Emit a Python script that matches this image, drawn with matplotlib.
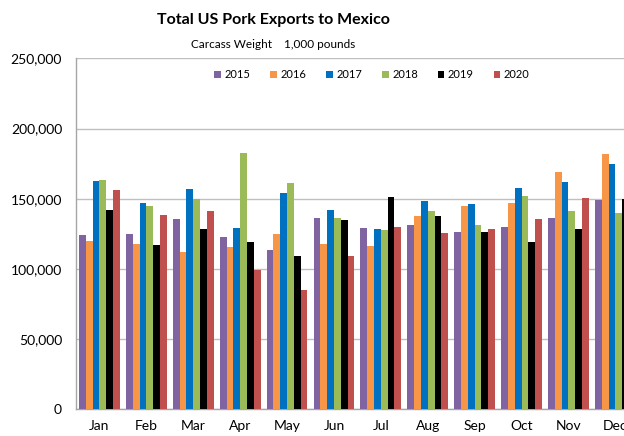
import matplotlib
matplotlib.use("Agg")
import matplotlib.pyplot as plt
import numpy as np

months = ["Jan", "Feb", "Mar", "Apr", "May", "Jun", "Jul", "Aug", "Sep", "Oct", "Nov", "Dec"]
years = ["2015", "2016", "2017", "2018", "2019", "2020"]
colors = ["#8064A2", "#F79646", "#0070C0", "#9BBB59", "#000000", "#C0504D"]

v2015 = [124150, 124650, 135300, 122700, 113200, 136500, 129400, 131100, 126300, 129900, 136500, 148900]
v2016 = [119650, 118000, 112000, 115600, 125100, 118000, 116600, 137700, 144600, 146900, 169000, 182100]
v2017 = [162400, 146900, 156900, 129100, 154100, 141700, 128700, 148400, 146000, 157900, 162200, 174700]
v2018 = [163100, 144600, 150000, 182500, 161400, 136300, 127700, 141200, 131100, 151900, 141000, 139800]
v2019 = [142200, 117300, 128700, 119200, 109000, 134600, 151000, 137500, 126300, 119200, 128700, 150000]
v2020 = [156000, 138200, 141000, 99200, 84800, 109500, 129900, 125400, 128700, 135800, 150800, np.nan]
series = [v2015, v2016, v2017, v2018, v2019, v2020]

plt.rcParams['font.family'] = ['Lato', 'DejaVu Sans']

fig = plt.figure(figsize=(6.24, 4.36), dpi=100)
ax = fig.add_axes([76/624, (436-409.3)/436, 1 - 76/624, (409.3-58.3)/436])

x = np.arange(len(months))
bw = 0.145
for i, (yr, vals, c) in enumerate(zip(years, series, colors)):
    ax.bar(x + (i - 2.5) * bw, vals, width=bw, color=c, label=yr, zorder=3)

ax.set_xlim(-0.5, -0.5 + 548/46.9)
ax.set_ylim(0, 250000)
ax.set_yticks(np.arange(0, 250001, 50000))
ax.yaxis.set_major_formatter(matplotlib.ticker.FuncFormatter(lambda v, p: f"{int(v):,}"))
ax.set_xticks(x)
ax.set_xticklabels(months)
ax.tick_params(axis='both', length=0, labelsize=10, colors='#000000')
ax.tick_params(axis='x', pad=8)
ax.tick_params(axis='y', pad=10)
ax.grid(axis='y', color='#BFBFBF', linewidth=1, zorder=0)
for s in ['top', 'right']:
    ax.spines[s].set_visible(False)
for s in ['left', 'bottom']:
    ax.spines[s].set_color('#A6A6A6')
    ax.spines[s].set_linewidth(1)

leg = ax.legend(ncol=6, loc='center', bbox_to_anchor=((372 - 76) / 548, 1 - (75 - 58.3) / 351),
                frameon=False, fontsize=8, handlelength=0.6, handleheight=0.6,
                handletextpad=0.3, columnspacing=1.8)

fig.text(273/624, 1 - 20/436, "Total US Pork Exports to Mexico", ha='center', va='center',
         fontsize=11.5, fontweight='bold')
fig.text(273/624, 1 - 44/436, "Carcass Weight    1,000 pounds", ha='center', va='center',
         fontsize=8.5)

fig.savefig("out.png", dpi=100)
